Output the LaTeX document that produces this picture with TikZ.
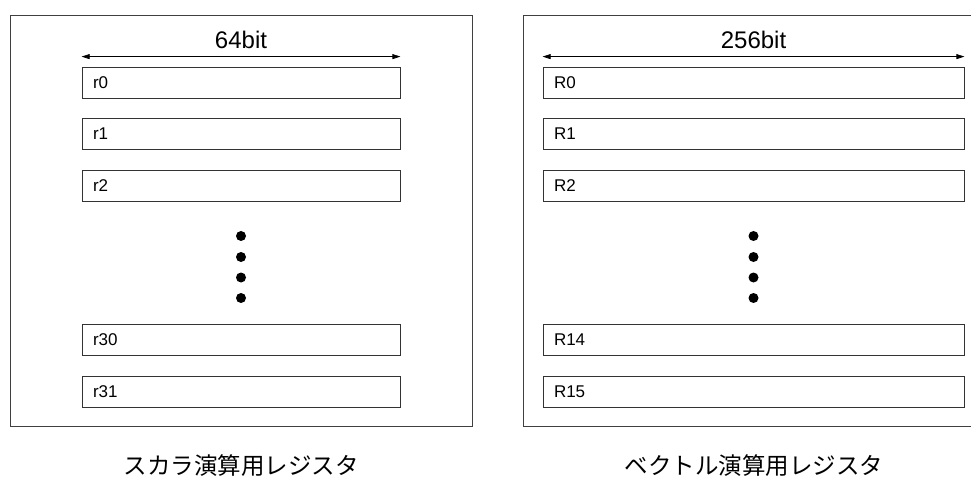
\documentclass[tikz,border=0pt]{standalone}
\usepackage{fontspec}
\setmainfont{Liberation Sans}
\newfontfamily\cjk{Noto Sans CJK JP}
\usetikzlibrary{arrows.meta}
\begin{document}
\begin{tikzpicture}[x=1pt,y=-1pt,
  panel/.style={draw=black!75,line width=0.9pt},
  regbox/.style={draw=black!80,line width=0.8pt,rectangle,minimum height=31pt,
    inner xsep=11pt,inner ysep=0pt,align=left,font=\fontsize{17}{19}\selectfont},
  dimarrow/.style={{Triangle[length=8pt,width=5pt]}-{Triangle[length=8pt,width=5pt]},line width=0.7pt},
  dot/.style={circle,fill=black,inner sep=0pt,minimum size=10pt},
  bitlabel/.style={font=\fontsize{24}{26}\selectfont,inner sep=0pt},
  caption/.style={font=\cjk\fontsize{23.5}{26}\selectfont,inner sep=0pt}]
\useasboundingbox (0,0) rectangle (971,478);
% left panel
\draw[panel] (10,15) rectangle (472,426);
% right panel (extends beyond right edge)
\draw[panel] (971,15) -- (523,15) -- (523,426) -- (971,426);
% left registers
\foreach \n/\t/\y in {l0/r0/82.5,l1/r1/134,l2/r2/185.5,l30/r30/340,l31/r31/391.5}{
  \node[regbox,text width=296pt] (\n) at (241,\y) {\t};
}
% right registers
\foreach \n/\t/\y in {q0/R0/82.5,q1/R1/134,q2/R2/185.5,q14/R14/340,q15/R15/391.5}{
  \node[regbox,text width=399pt] (\n) at (753.5,\y) {\t};
}
% dimension arrows
\coordinate (la) at ([yshift=10pt]l0.north west);
\coordinate (lb) at ([yshift=10pt]l0.north east);
\draw[dimarrow] (la) -- (lb);
\coordinate (ra) at ([yshift=10pt]q0.north west);
\coordinate (rb) at ([yshift=10pt]q0.north east);
\draw[dimarrow] (ra) -- (rb);
\node[bitlabel] (lbits) at (241,40) {64bit};
\node[bitlabel] (rbits) at (753.5,40) {256bit};
% dots
\foreach \i/\y in {1/236,2/257,3/277.5,4/298}{
  \node[dot] (ld\i) at (241,\y) {};
  \node[dot] (rd\i) at (753.5,\y) {};
}
% captions
\node[caption] (lcap) at (241,466) {スカラ演算用レジスタ};
\node[caption] (rcap) at (754,466) {ベクトル演算用レジスタ};
\end{tikzpicture}
\end{document}
